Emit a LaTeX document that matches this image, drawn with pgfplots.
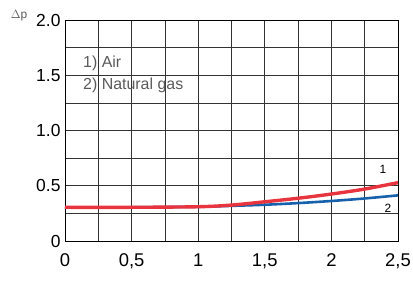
\documentclass[border=0pt]{standalone}
\usepackage{fontspec}
\setmainfont{Liberation Sans}
\usepackage{pgfplots}
\pgfplotsset{compat=1.18}
\definecolor{redc}{RGB}{232,52,62}
\definecolor{bluec}{RGB}{22,96,172}
\definecolor{txtg}{RGB}{90,90,90}
\begin{document}
\begin{tikzpicture}
\path[use as bounding box] (-65bp,-42bp) rectangle (348bp,241bp);
\begin{axis}[
  at={(0,0)}, anchor=south west,
  scale only axis, width=333bp, height=221bp,
  xmin=0, xmax=2.5, ymin=0, ymax=2,
  clip=false,
  axis line style={line width=0.9pt, black},
  xtick={0,0.5,1,1.5,2,2.5},
  xticklabels={0,{0,5},1,{1,5},2,{2,5}},
  ytick={0,0.5,1,1.5,2},
  yticklabels={0,0.5,1.0,1.5,2.0},
  minor xtick={0.25,0.75,1.25,1.75,2.25},
  minor ytick={0.25,0.75,1.25,1.75},
  grid=both,
  major grid style={line width=0.7pt, black!80},
  minor grid style={line width=0.7pt, black!80},
  major tick length=0pt, minor tick length=0pt,
  /pgf/number format/assume math mode=true,
  x tick label style={font=\fontsize{18.5}{20}\selectfont, yshift=-9bp},
  y tick label style={font=\fontsize{17.5}{19}\selectfont, xshift=-1bp},
]
\addplot[bluec, line width=2.6pt, smooth] coordinates {
(0,0.305) (0.5,0.305) (1,0.31) (1.25,0.318) (1.5,0.328) (1.75,0.343) (2,0.362) (2.25,0.385) (2.5,0.413)};
\addplot[redc, line width=3.4pt, smooth] coordinates {
(0,0.305) (0.5,0.305) (1,0.31) (1.25,0.325) (1.5,0.355) (1.75,0.387) (2,0.425) (2.25,0.47) (2.5,0.528)};
\node[font=\fontsize{12}{14}\selectfont, text=txtg] at (axis cs:-0.345,2.036) {$\Delta$p};
\node[font=\fontsize{16}{18}\selectfont, text=txtg, anchor=west, inner sep=0pt] at (axis cs:0.135,1.61) {1) Air};
\node[font=\fontsize{16}{18}\selectfont, text=txtg, anchor=west, inner sep=0pt] at (axis cs:0.135,1.41) {2) Natural gas};
\node[font=\fontsize{12}{14}\selectfont] at (axis cs:2.387,0.652) {1};
\node[font=\fontsize{12}{14}\selectfont] at (axis cs:2.425,0.30) {2};
\end{axis}
\end{tikzpicture}
\end{document}
